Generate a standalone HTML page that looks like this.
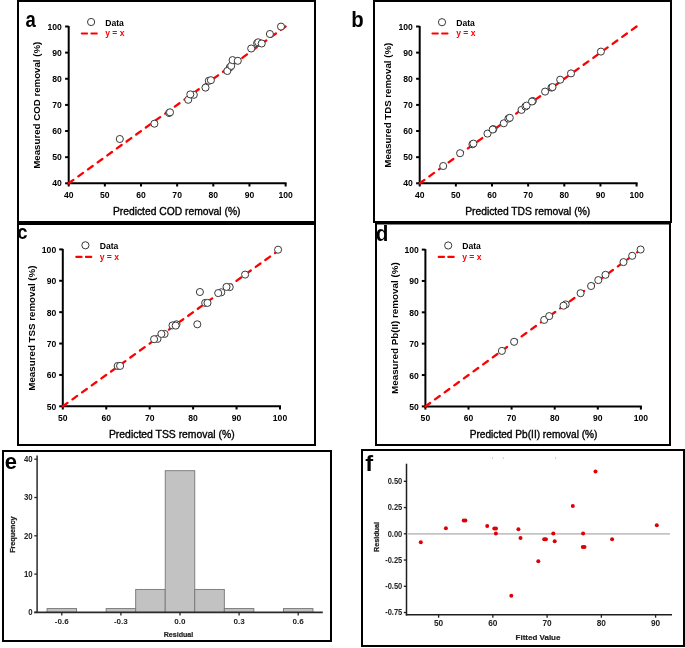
<!DOCTYPE html>
<html><head><meta charset="utf-8"><style>
html,body{margin:0;padding:0;background:#fff;width:685px;height:648px;overflow:hidden}
svg{position:absolute;left:0;top:0;font-family:"Liberation Sans", sans-serif;will-change:transform}
</style></head><body>
<svg width="685" height="648" viewBox="0 0 685 648">
<rect x="18" y="1" width="297" height="221" fill="none" stroke="#000" stroke-width="2"/>
<rect x="374" y="1" width="297" height="221" fill="none" stroke="#000" stroke-width="2"/>
<rect x="18" y="224" width="297" height="221" fill="none" stroke="#000" stroke-width="2"/>
<rect x="376" y="223.5" width="294" height="221.5" fill="none" stroke="#000" stroke-width="2"/>
<rect x="3" y="451" width="328" height="190" fill="none" stroke="#000" stroke-width="2"/>
<rect x="362" y="450" width="322" height="196" fill="none" stroke="#000" stroke-width="2"/>
<line x1="68.70" y1="26.00" x2="68.70" y2="184.30" stroke="#000" stroke-width="2" />
<line x1="67.70" y1="183.30" x2="286.60" y2="183.30" stroke="#000" stroke-width="2" />
<line x1="65.10" y1="183.30" x2="68.70" y2="183.30" stroke="#000" stroke-width="2" />
<line x1="68.70" y1="183.30" x2="68.70" y2="186.50" stroke="#000" stroke-width="2" />
<text x="61.90" y="186.40" font-size="8.6" font-weight="700" text-anchor="end" fill="#000" >40</text>
<text x="68.70" y="197.90" font-size="8.6" font-weight="700" text-anchor="middle" fill="#000" >40</text>
<line x1="65.10" y1="157.17" x2="68.70" y2="157.17" stroke="#000" stroke-width="2" />
<line x1="104.85" y1="183.30" x2="104.85" y2="186.50" stroke="#000" stroke-width="2" />
<text x="61.90" y="160.27" font-size="8.6" font-weight="700" text-anchor="end" fill="#000" >50</text>
<text x="104.85" y="197.90" font-size="8.6" font-weight="700" text-anchor="middle" fill="#000" >50</text>
<line x1="65.10" y1="131.03" x2="68.70" y2="131.03" stroke="#000" stroke-width="2" />
<line x1="141.00" y1="183.30" x2="141.00" y2="186.50" stroke="#000" stroke-width="2" />
<text x="61.90" y="134.13" font-size="8.6" font-weight="700" text-anchor="end" fill="#000" >60</text>
<text x="141.00" y="197.90" font-size="8.6" font-weight="700" text-anchor="middle" fill="#000" >60</text>
<line x1="65.10" y1="104.90" x2="68.70" y2="104.90" stroke="#000" stroke-width="2" />
<line x1="177.15" y1="183.30" x2="177.15" y2="186.50" stroke="#000" stroke-width="2" />
<text x="61.90" y="108.00" font-size="8.6" font-weight="700" text-anchor="end" fill="#000" >70</text>
<text x="177.15" y="197.90" font-size="8.6" font-weight="700" text-anchor="middle" fill="#000" >70</text>
<line x1="65.10" y1="78.77" x2="68.70" y2="78.77" stroke="#000" stroke-width="2" />
<line x1="213.30" y1="183.30" x2="213.30" y2="186.50" stroke="#000" stroke-width="2" />
<text x="61.90" y="81.87" font-size="8.6" font-weight="700" text-anchor="end" fill="#000" >80</text>
<text x="213.30" y="197.90" font-size="8.6" font-weight="700" text-anchor="middle" fill="#000" >80</text>
<line x1="65.10" y1="52.63" x2="68.70" y2="52.63" stroke="#000" stroke-width="2" />
<line x1="249.45" y1="183.30" x2="249.45" y2="186.50" stroke="#000" stroke-width="2" />
<text x="61.90" y="55.73" font-size="8.6" font-weight="700" text-anchor="end" fill="#000" >90</text>
<text x="249.45" y="197.90" font-size="8.6" font-weight="700" text-anchor="middle" fill="#000" >90</text>
<line x1="65.10" y1="26.50" x2="68.70" y2="26.50" stroke="#000" stroke-width="2" />
<line x1="285.60" y1="183.30" x2="285.60" y2="186.50" stroke="#000" stroke-width="2" />
<text x="61.90" y="29.60" font-size="8.6" font-weight="700" text-anchor="end" fill="#000" >100</text>
<text x="285.60" y="197.90" font-size="8.6" font-weight="700" text-anchor="middle" fill="#000" >100</text>
<line x1="68.70" y1="183.30" x2="285.60" y2="26.50" stroke="#f00" stroke-width="2.3" stroke-linecap="round" stroke-dasharray="5.8 6.1"/>
<circle cx="119.8" cy="139" r="3.55" fill="#fff" stroke="#383838" stroke-width="1"/>
<circle cx="154.39999999999998" cy="123.7" r="3.55" fill="#fff" stroke="#383838" stroke-width="1"/>
<circle cx="169.1" cy="113" r="3.55" fill="#fff" stroke="#383838" stroke-width="1"/>
<circle cx="170.0" cy="112.3" r="3.55" fill="#fff" stroke="#383838" stroke-width="1"/>
<circle cx="188.2" cy="99.8" r="3.55" fill="#fff" stroke="#383838" stroke-width="1"/>
<circle cx="193.79999999999998" cy="94.8" r="3.55" fill="#fff" stroke="#383838" stroke-width="1"/>
<circle cx="190.29999999999998" cy="94.4" r="3.55" fill="#fff" stroke="#383838" stroke-width="1"/>
<circle cx="208.79999999999998" cy="80.8" r="3.55" fill="#fff" stroke="#383838" stroke-width="1"/>
<circle cx="210.89999999999998" cy="80.2" r="3.55" fill="#fff" stroke="#383838" stroke-width="1"/>
<circle cx="205.5" cy="87.6" r="3.55" fill="#fff" stroke="#383838" stroke-width="1"/>
<circle cx="229.79999999999998" cy="67.4" r="3.55" fill="#fff" stroke="#383838" stroke-width="1"/>
<circle cx="227.29999999999998" cy="71" r="3.55" fill="#fff" stroke="#383838" stroke-width="1"/>
<circle cx="231.2" cy="65.9" r="3.55" fill="#fff" stroke="#383838" stroke-width="1"/>
<circle cx="232.6" cy="60.1" r="3.55" fill="#fff" stroke="#383838" stroke-width="1"/>
<circle cx="237.79999999999998" cy="60.8" r="3.55" fill="#fff" stroke="#383838" stroke-width="1"/>
<circle cx="251.2" cy="48.5" r="3.55" fill="#fff" stroke="#383838" stroke-width="1"/>
<circle cx="257.09999999999997" cy="43.2" r="3.55" fill="#fff" stroke="#383838" stroke-width="1"/>
<circle cx="258.2" cy="42.3" r="3.55" fill="#fff" stroke="#383838" stroke-width="1"/>
<circle cx="261.7" cy="43.5" r="3.55" fill="#fff" stroke="#383838" stroke-width="1"/>
<circle cx="269.9" cy="34" r="3.55" fill="#fff" stroke="#383838" stroke-width="1"/>
<circle cx="281.0" cy="26.6" r="3.55" fill="#fff" stroke="#383838" stroke-width="1"/>
<text x="176.70" y="214.60" font-size="10.3" font-weight="400" text-anchor="middle" fill="#000" stroke="#000" stroke-width="0.35">Predicted COD removal (%)</text>
<text x="0.00" y="0.00" font-size="9.7" font-weight="700" text-anchor="middle" fill="#000" transform="translate(40.3,105.2) rotate(-90)">Measured COD removal (%)</text>
<circle cx="91.1" cy="22.0" r="3.6" fill="#fff" stroke="#383838" stroke-width="1"/>
<line x1="81.80" y1="33.50" x2="87.10" y2="33.50" stroke="#f00" stroke-width="2.1" stroke-linecap="round"/>
<line x1="91.40" y1="33.50" x2="96.80" y2="33.50" stroke="#f00" stroke-width="2.1" stroke-linecap="round"/>
<text x="105.20" y="25.60" font-size="8.6" font-weight="700" text-anchor="start" fill="#000" >Data</text>
<text x="105.20" y="36.30" font-size="8.6" font-weight="700" text-anchor="start" fill="#f00" >y = x</text>
<line x1="419.70" y1="26.00" x2="419.70" y2="184.30" stroke="#000" stroke-width="2" />
<line x1="418.70" y1="183.30" x2="637.60" y2="183.30" stroke="#000" stroke-width="2" />
<line x1="416.10" y1="183.30" x2="419.70" y2="183.30" stroke="#000" stroke-width="2" />
<line x1="419.70" y1="183.30" x2="419.70" y2="186.50" stroke="#000" stroke-width="2" />
<text x="412.90" y="186.40" font-size="8.6" font-weight="700" text-anchor="end" fill="#000" >40</text>
<text x="419.70" y="197.90" font-size="8.6" font-weight="700" text-anchor="middle" fill="#000" >40</text>
<line x1="416.10" y1="157.17" x2="419.70" y2="157.17" stroke="#000" stroke-width="2" />
<line x1="455.85" y1="183.30" x2="455.85" y2="186.50" stroke="#000" stroke-width="2" />
<text x="412.90" y="160.27" font-size="8.6" font-weight="700" text-anchor="end" fill="#000" >50</text>
<text x="455.85" y="197.90" font-size="8.6" font-weight="700" text-anchor="middle" fill="#000" >50</text>
<line x1="416.10" y1="131.03" x2="419.70" y2="131.03" stroke="#000" stroke-width="2" />
<line x1="492.00" y1="183.30" x2="492.00" y2="186.50" stroke="#000" stroke-width="2" />
<text x="412.90" y="134.13" font-size="8.6" font-weight="700" text-anchor="end" fill="#000" >60</text>
<text x="492.00" y="197.90" font-size="8.6" font-weight="700" text-anchor="middle" fill="#000" >60</text>
<line x1="416.10" y1="104.90" x2="419.70" y2="104.90" stroke="#000" stroke-width="2" />
<line x1="528.15" y1="183.30" x2="528.15" y2="186.50" stroke="#000" stroke-width="2" />
<text x="412.90" y="108.00" font-size="8.6" font-weight="700" text-anchor="end" fill="#000" >70</text>
<text x="528.15" y="197.90" font-size="8.6" font-weight="700" text-anchor="middle" fill="#000" >70</text>
<line x1="416.10" y1="78.77" x2="419.70" y2="78.77" stroke="#000" stroke-width="2" />
<line x1="564.30" y1="183.30" x2="564.30" y2="186.50" stroke="#000" stroke-width="2" />
<text x="412.90" y="81.87" font-size="8.6" font-weight="700" text-anchor="end" fill="#000" >80</text>
<text x="564.30" y="197.90" font-size="8.6" font-weight="700" text-anchor="middle" fill="#000" >80</text>
<line x1="416.10" y1="52.63" x2="419.70" y2="52.63" stroke="#000" stroke-width="2" />
<line x1="600.45" y1="183.30" x2="600.45" y2="186.50" stroke="#000" stroke-width="2" />
<text x="412.90" y="55.73" font-size="8.6" font-weight="700" text-anchor="end" fill="#000" >90</text>
<text x="600.45" y="197.90" font-size="8.6" font-weight="700" text-anchor="middle" fill="#000" >90</text>
<line x1="416.10" y1="26.50" x2="419.70" y2="26.50" stroke="#000" stroke-width="2" />
<line x1="636.60" y1="183.30" x2="636.60" y2="186.50" stroke="#000" stroke-width="2" />
<text x="412.90" y="29.60" font-size="8.6" font-weight="700" text-anchor="end" fill="#000" >100</text>
<text x="636.60" y="197.90" font-size="8.6" font-weight="700" text-anchor="middle" fill="#000" >100</text>
<line x1="419.70" y1="183.30" x2="636.60" y2="26.50" stroke="#f00" stroke-width="2.3" stroke-linecap="round" stroke-dasharray="5.8 6.1"/>
<circle cx="443.2" cy="166" r="3.55" fill="#fff" stroke="#383838" stroke-width="1"/>
<circle cx="460.09999999999997" cy="153.2" r="3.55" fill="#fff" stroke="#383838" stroke-width="1"/>
<circle cx="472.4" cy="144.3" r="3.55" fill="#fff" stroke="#383838" stroke-width="1"/>
<circle cx="473.4" cy="143.6" r="3.55" fill="#fff" stroke="#383838" stroke-width="1"/>
<circle cx="487.5" cy="133.6" r="3.55" fill="#fff" stroke="#383838" stroke-width="1"/>
<circle cx="493.3" cy="129.1" r="3.55" fill="#fff" stroke="#383838" stroke-width="1"/>
<circle cx="492.7" cy="129.5" r="3.55" fill="#fff" stroke="#383838" stroke-width="1"/>
<circle cx="503.8" cy="123.3" r="3.55" fill="#fff" stroke="#383838" stroke-width="1"/>
<circle cx="508.4" cy="118.6" r="3.55" fill="#fff" stroke="#383838" stroke-width="1"/>
<circle cx="509.8" cy="117.8" r="3.55" fill="#fff" stroke="#383838" stroke-width="1"/>
<circle cx="521.5" cy="109.9" r="3.55" fill="#fff" stroke="#383838" stroke-width="1"/>
<circle cx="525.4000000000001" cy="106.5" r="3.55" fill="#fff" stroke="#383838" stroke-width="1"/>
<circle cx="526.6" cy="105.6" r="3.55" fill="#fff" stroke="#383838" stroke-width="1"/>
<circle cx="532.8000000000001" cy="101.0" r="3.55" fill="#fff" stroke="#383838" stroke-width="1"/>
<circle cx="532.0" cy="101.5" r="3.55" fill="#fff" stroke="#383838" stroke-width="1"/>
<circle cx="545.1" cy="91.6" r="3.55" fill="#fff" stroke="#383838" stroke-width="1"/>
<circle cx="551.5" cy="87.6" r="3.55" fill="#fff" stroke="#383838" stroke-width="1"/>
<circle cx="552.5" cy="87.1" r="3.55" fill="#fff" stroke="#383838" stroke-width="1"/>
<circle cx="560.2" cy="79.7" r="3.55" fill="#fff" stroke="#383838" stroke-width="1"/>
<circle cx="571.0" cy="73.4" r="3.55" fill="#fff" stroke="#383838" stroke-width="1"/>
<circle cx="600.9000000000001" cy="51.6" r="3.55" fill="#fff" stroke="#383838" stroke-width="1"/>
<text x="527.70" y="214.60" font-size="10.3" font-weight="400" text-anchor="middle" fill="#000" stroke="#000" stroke-width="0.35">Predicted TDS removal (%)</text>
<text x="0.00" y="0.00" font-size="9.7" font-weight="700" text-anchor="middle" fill="#000" transform="translate(391.3,105.2) rotate(-90)">Measured TDS removal (%)</text>
<circle cx="442.0" cy="22.2" r="3.6" fill="#fff" stroke="#383838" stroke-width="1"/>
<line x1="432.50" y1="33.50" x2="437.80" y2="33.50" stroke="#f00" stroke-width="2.1" stroke-linecap="round"/>
<line x1="442.10" y1="33.50" x2="447.50" y2="33.50" stroke="#f00" stroke-width="2.1" stroke-linecap="round"/>
<text x="456.20" y="25.80" font-size="8.6" font-weight="700" text-anchor="start" fill="#000" >Data</text>
<text x="456.20" y="36.30" font-size="8.6" font-weight="700" text-anchor="start" fill="#f00" >y = x</text>
<line x1="62.80" y1="248.90" x2="62.80" y2="407.30" stroke="#000" stroke-width="2" />
<line x1="61.80" y1="406.30" x2="281.00" y2="406.30" stroke="#000" stroke-width="2" />
<line x1="59.20" y1="406.30" x2="62.80" y2="406.30" stroke="#000" stroke-width="2" />
<line x1="62.80" y1="406.30" x2="62.80" y2="409.50" stroke="#000" stroke-width="2" />
<text x="56.20" y="409.80" font-size="8.6" font-weight="700" text-anchor="end" fill="#000" >50</text>
<text x="62.80" y="421.00" font-size="8.6" font-weight="700" text-anchor="middle" fill="#000" >50</text>
<line x1="59.20" y1="374.92" x2="62.80" y2="374.92" stroke="#000" stroke-width="2" />
<line x1="106.24" y1="406.30" x2="106.24" y2="409.50" stroke="#000" stroke-width="2" />
<text x="56.20" y="378.42" font-size="8.6" font-weight="700" text-anchor="end" fill="#000" >60</text>
<text x="106.24" y="421.00" font-size="8.6" font-weight="700" text-anchor="middle" fill="#000" >60</text>
<line x1="59.20" y1="343.54" x2="62.80" y2="343.54" stroke="#000" stroke-width="2" />
<line x1="149.68" y1="406.30" x2="149.68" y2="409.50" stroke="#000" stroke-width="2" />
<text x="56.20" y="347.04" font-size="8.6" font-weight="700" text-anchor="end" fill="#000" >70</text>
<text x="149.68" y="421.00" font-size="8.6" font-weight="700" text-anchor="middle" fill="#000" >70</text>
<line x1="59.20" y1="312.16" x2="62.80" y2="312.16" stroke="#000" stroke-width="2" />
<line x1="193.12" y1="406.30" x2="193.12" y2="409.50" stroke="#000" stroke-width="2" />
<text x="56.20" y="315.66" font-size="8.6" font-weight="700" text-anchor="end" fill="#000" >80</text>
<text x="193.12" y="421.00" font-size="8.6" font-weight="700" text-anchor="middle" fill="#000" >80</text>
<line x1="59.20" y1="280.78" x2="62.80" y2="280.78" stroke="#000" stroke-width="2" />
<line x1="236.56" y1="406.30" x2="236.56" y2="409.50" stroke="#000" stroke-width="2" />
<text x="56.20" y="284.28" font-size="8.6" font-weight="700" text-anchor="end" fill="#000" >90</text>
<text x="236.56" y="421.00" font-size="8.6" font-weight="700" text-anchor="middle" fill="#000" >90</text>
<line x1="59.20" y1="249.40" x2="62.80" y2="249.40" stroke="#000" stroke-width="2" />
<line x1="280.00" y1="406.30" x2="280.00" y2="409.50" stroke="#000" stroke-width="2" />
<text x="56.20" y="252.90" font-size="8.6" font-weight="700" text-anchor="end" fill="#000" >100</text>
<text x="280.00" y="421.00" font-size="8.6" font-weight="700" text-anchor="middle" fill="#000" >100</text>
<line x1="62.80" y1="406.30" x2="280.00" y2="249.40" stroke="#f00" stroke-width="2.3" stroke-linecap="round" stroke-dasharray="5.8 6.1"/>
<circle cx="117.7" cy="366" r="3.55" fill="#fff" stroke="#383838" stroke-width="1"/>
<circle cx="120.10000000000001" cy="365.9" r="3.55" fill="#fff" stroke="#383838" stroke-width="1"/>
<circle cx="157.5" cy="338.9" r="3.55" fill="#fff" stroke="#383838" stroke-width="1"/>
<circle cx="154.1" cy="339.2" r="3.55" fill="#fff" stroke="#383838" stroke-width="1"/>
<circle cx="164.6" cy="333.9" r="3.55" fill="#fff" stroke="#383838" stroke-width="1"/>
<circle cx="161.39999999999998" cy="333.9" r="3.55" fill="#fff" stroke="#383838" stroke-width="1"/>
<circle cx="172.5" cy="325.4" r="3.55" fill="#fff" stroke="#383838" stroke-width="1"/>
<circle cx="176.5" cy="324.3" r="3.55" fill="#fff" stroke="#383838" stroke-width="1"/>
<circle cx="175.7" cy="325.6" r="3.55" fill="#fff" stroke="#383838" stroke-width="1"/>
<circle cx="197.29999999999998" cy="324.3" r="3.55" fill="#fff" stroke="#383838" stroke-width="1"/>
<circle cx="199.89999999999998" cy="292" r="3.55" fill="#fff" stroke="#383838" stroke-width="1"/>
<circle cx="205.2" cy="302.9" r="3.55" fill="#fff" stroke="#383838" stroke-width="1"/>
<circle cx="207.5" cy="302.9" r="3.55" fill="#fff" stroke="#383838" stroke-width="1"/>
<circle cx="221.29999999999998" cy="292.3" r="3.55" fill="#fff" stroke="#383838" stroke-width="1"/>
<circle cx="218.2" cy="293.1" r="3.55" fill="#fff" stroke="#383838" stroke-width="1"/>
<circle cx="229.7" cy="287.1" r="3.55" fill="#fff" stroke="#383838" stroke-width="1"/>
<circle cx="226.5" cy="286.9" r="3.55" fill="#fff" stroke="#383838" stroke-width="1"/>
<circle cx="245.1" cy="274.6" r="3.55" fill="#fff" stroke="#383838" stroke-width="1"/>
<circle cx="278.09999999999997" cy="249.7" r="3.55" fill="#fff" stroke="#383838" stroke-width="1"/>
<text x="171.80" y="437.50" font-size="10.4" font-weight="400" text-anchor="middle" fill="#000" stroke="#000" stroke-width="0.35">Predicted TSS removal (%)</text>
<text x="0.00" y="0.00" font-size="9.75" font-weight="700" text-anchor="middle" fill="#000" transform="translate(34.7,328.1) rotate(-90)">Measured TSS removal (%)</text>
<circle cx="85.39999999999999" cy="245.29999999999998" r="3.6" fill="#fff" stroke="#383838" stroke-width="1"/>
<line x1="76.30" y1="256.90" x2="81.60" y2="256.90" stroke="#f00" stroke-width="2.1" stroke-linecap="round"/>
<line x1="85.90" y1="256.90" x2="91.30" y2="256.90" stroke="#f00" stroke-width="2.1" stroke-linecap="round"/>
<text x="99.70" y="248.90" font-size="8.6" font-weight="700" text-anchor="start" fill="#000" >Data</text>
<text x="99.70" y="259.70" font-size="8.6" font-weight="700" text-anchor="start" fill="#f00" >y = x</text>
<line x1="425.40" y1="249.10" x2="425.40" y2="407.40" stroke="#000" stroke-width="2" />
<line x1="424.40" y1="406.40" x2="641.90" y2="406.40" stroke="#000" stroke-width="2" />
<line x1="421.80" y1="406.40" x2="425.40" y2="406.40" stroke="#000" stroke-width="2" />
<line x1="425.40" y1="406.40" x2="425.40" y2="409.60" stroke="#000" stroke-width="2" />
<text x="418.90" y="409.90" font-size="8.6" font-weight="700" text-anchor="end" fill="#000" >50</text>
<text x="425.40" y="421.00" font-size="8.6" font-weight="700" text-anchor="middle" fill="#000" >50</text>
<line x1="421.80" y1="375.04" x2="425.40" y2="375.04" stroke="#000" stroke-width="2" />
<line x1="468.50" y1="406.40" x2="468.50" y2="409.60" stroke="#000" stroke-width="2" />
<text x="418.90" y="378.54" font-size="8.6" font-weight="700" text-anchor="end" fill="#000" >60</text>
<text x="468.50" y="421.00" font-size="8.6" font-weight="700" text-anchor="middle" fill="#000" >60</text>
<line x1="421.80" y1="343.68" x2="425.40" y2="343.68" stroke="#000" stroke-width="2" />
<line x1="511.60" y1="406.40" x2="511.60" y2="409.60" stroke="#000" stroke-width="2" />
<text x="418.90" y="347.18" font-size="8.6" font-weight="700" text-anchor="end" fill="#000" >70</text>
<text x="511.60" y="421.00" font-size="8.6" font-weight="700" text-anchor="middle" fill="#000" >70</text>
<line x1="421.80" y1="312.32" x2="425.40" y2="312.32" stroke="#000" stroke-width="2" />
<line x1="554.70" y1="406.40" x2="554.70" y2="409.60" stroke="#000" stroke-width="2" />
<text x="418.90" y="315.82" font-size="8.6" font-weight="700" text-anchor="end" fill="#000" >80</text>
<text x="554.70" y="421.00" font-size="8.6" font-weight="700" text-anchor="middle" fill="#000" >80</text>
<line x1="421.80" y1="280.96" x2="425.40" y2="280.96" stroke="#000" stroke-width="2" />
<line x1="597.80" y1="406.40" x2="597.80" y2="409.60" stroke="#000" stroke-width="2" />
<text x="418.90" y="284.46" font-size="8.6" font-weight="700" text-anchor="end" fill="#000" >90</text>
<text x="597.80" y="421.00" font-size="8.6" font-weight="700" text-anchor="middle" fill="#000" >90</text>
<line x1="421.80" y1="249.60" x2="425.40" y2="249.60" stroke="#000" stroke-width="2" />
<line x1="640.90" y1="406.40" x2="640.90" y2="409.60" stroke="#000" stroke-width="2" />
<text x="418.90" y="253.10" font-size="8.6" font-weight="700" text-anchor="end" fill="#000" >100</text>
<text x="640.90" y="421.00" font-size="8.6" font-weight="700" text-anchor="middle" fill="#000" >100</text>
<line x1="425.40" y1="406.40" x2="640.90" y2="249.60" stroke="#f00" stroke-width="2.3" stroke-linecap="round" stroke-dasharray="5.8 6.1"/>
<circle cx="501.9" cy="350.9" r="3.55" fill="#fff" stroke="#383838" stroke-width="1"/>
<circle cx="514.1" cy="341.8" r="3.55" fill="#fff" stroke="#383838" stroke-width="1"/>
<circle cx="544.2" cy="319.9" r="3.55" fill="#fff" stroke="#383838" stroke-width="1"/>
<circle cx="549.2" cy="316.1" r="3.55" fill="#fff" stroke="#383838" stroke-width="1"/>
<circle cx="565.7" cy="304.4" r="3.55" fill="#fff" stroke="#383838" stroke-width="1"/>
<circle cx="563.5" cy="305.7" r="3.55" fill="#fff" stroke="#383838" stroke-width="1"/>
<circle cx="580.6" cy="293.2" r="3.55" fill="#fff" stroke="#383838" stroke-width="1"/>
<circle cx="591.1" cy="286" r="3.55" fill="#fff" stroke="#383838" stroke-width="1"/>
<circle cx="598.3000000000001" cy="280.1" r="3.55" fill="#fff" stroke="#383838" stroke-width="1"/>
<circle cx="605.5" cy="274.8" r="3.55" fill="#fff" stroke="#383838" stroke-width="1"/>
<circle cx="623.5" cy="262.1" r="3.55" fill="#fff" stroke="#383838" stroke-width="1"/>
<circle cx="632.2" cy="255.8" r="3.55" fill="#fff" stroke="#383838" stroke-width="1"/>
<circle cx="640.6" cy="249.5" r="3.55" fill="#fff" stroke="#383838" stroke-width="1"/>
<text x="533.60" y="437.50" font-size="10.15" font-weight="400" text-anchor="middle" fill="#000" stroke="#000" stroke-width="0.35">Predicted Pb(II) removal (%)</text>
<text x="0.00" y="0.00" font-size="9.85" font-weight="700" text-anchor="middle" fill="#000" transform="translate(397.5,328.1) rotate(-90)">Measured Pb(II) removal (%)</text>
<circle cx="448.2" cy="245.5" r="3.6" fill="#fff" stroke="#383838" stroke-width="1"/>
<line x1="438.70" y1="256.90" x2="444.00" y2="256.90" stroke="#f00" stroke-width="2.1" stroke-linecap="round"/>
<line x1="448.30" y1="256.90" x2="453.70" y2="256.90" stroke="#f00" stroke-width="2.1" stroke-linecap="round"/>
<text x="462.20" y="249.10" font-size="8.6" font-weight="700" text-anchor="start" fill="#000" >Data</text>
<text x="462.20" y="259.70" font-size="8.6" font-weight="700" text-anchor="start" fill="#f00" >y = x</text>
<rect x="47.03" y="608.57" width="29.55" height="3.83" fill="#c2c2c2" stroke="#777" stroke-width="0.9"/>
<rect x="106.12" y="608.57" width="29.55" height="3.83" fill="#c2c2c2" stroke="#777" stroke-width="0.9"/>
<rect x="135.68" y="589.42" width="29.55" height="22.98" fill="#c2c2c2" stroke="#777" stroke-width="0.9"/>
<rect x="165.22" y="470.69" width="29.55" height="141.71" fill="#c2c2c2" stroke="#777" stroke-width="0.9"/>
<rect x="194.78" y="589.42" width="29.55" height="22.98" fill="#c2c2c2" stroke="#777" stroke-width="0.9"/>
<rect x="224.32" y="608.57" width="29.55" height="3.83" fill="#c2c2c2" stroke="#777" stroke-width="0.9"/>
<rect x="283.43" y="608.57" width="29.55" height="3.83" fill="#c2c2c2" stroke="#777" stroke-width="0.9"/>
<line x1="37.10" y1="455.50" x2="37.10" y2="613.10" stroke="#2a2a2a" stroke-width="1.5" />
<line x1="34.30" y1="612.40" x2="322.80" y2="612.40" stroke="#2a2a2a" stroke-width="1.6" />
<line x1="34.30" y1="612.40" x2="37.10" y2="612.40" stroke="#2a2a2a" stroke-width="1.3" />
<text x="0.00" y="0.00" font-size="8.4" font-weight="700" text-anchor="end" fill="#222" transform="translate(32.6,615.20) scale(0.93,1)">0</text>
<line x1="34.30" y1="574.10" x2="37.10" y2="574.10" stroke="#2a2a2a" stroke-width="1.3" />
<text x="0.00" y="0.00" font-size="8.4" font-weight="700" text-anchor="end" fill="#222" transform="translate(32.6,576.90) scale(0.93,1)">10</text>
<line x1="34.30" y1="535.80" x2="37.10" y2="535.80" stroke="#2a2a2a" stroke-width="1.3" />
<text x="0.00" y="0.00" font-size="8.4" font-weight="700" text-anchor="end" fill="#222" transform="translate(32.6,538.60) scale(0.93,1)">20</text>
<line x1="34.30" y1="497.50" x2="37.10" y2="497.50" stroke="#2a2a2a" stroke-width="1.3" />
<text x="0.00" y="0.00" font-size="8.4" font-weight="700" text-anchor="end" fill="#222" transform="translate(32.6,500.30) scale(0.93,1)">30</text>
<line x1="34.30" y1="459.20" x2="37.10" y2="459.20" stroke="#2a2a2a" stroke-width="1.3" />
<text x="0.00" y="0.00" font-size="8.4" font-weight="700" text-anchor="end" fill="#222" transform="translate(32.6,462.00) scale(0.93,1)">40</text>
<line x1="61.80" y1="612.40" x2="61.80" y2="615.60" stroke="#2a2a2a" stroke-width="1.3" />
<text x="61.80" y="624.00" font-size="8.1" font-weight="700" text-anchor="middle" fill="#222" >-0.6</text>
<line x1="120.90" y1="612.40" x2="120.90" y2="615.60" stroke="#2a2a2a" stroke-width="1.3" />
<text x="120.90" y="624.00" font-size="8.1" font-weight="700" text-anchor="middle" fill="#222" >-0.3</text>
<line x1="180.00" y1="612.40" x2="180.00" y2="615.60" stroke="#2a2a2a" stroke-width="1.3" />
<text x="180.00" y="624.00" font-size="8.1" font-weight="700" text-anchor="middle" fill="#222" >0.0</text>
<line x1="239.10" y1="612.40" x2="239.10" y2="615.60" stroke="#2a2a2a" stroke-width="1.3" />
<text x="239.10" y="624.00" font-size="8.1" font-weight="700" text-anchor="middle" fill="#222" >0.3</text>
<line x1="298.20" y1="612.40" x2="298.20" y2="615.60" stroke="#2a2a2a" stroke-width="1.3" />
<text x="298.20" y="624.00" font-size="8.1" font-weight="700" text-anchor="middle" fill="#222" >0.6</text>
<text x="178.50" y="637.30" font-size="7.1" font-weight="700" text-anchor="middle" fill="#222" stroke="#222" stroke-width="0.2">Residual</text>
<text x="0.00" y="0.00" font-size="7.2" font-weight="700" text-anchor="middle" fill="#222" stroke="#222" stroke-width="0.25" transform="translate(15.4,534.7) rotate(-90)">Frequency</text>
<line x1="406.50" y1="463.70" x2="406.50" y2="615.50" stroke="#1e1e1e" stroke-width="1.5" />
<line x1="405.80" y1="614.80" x2="672.00" y2="614.80" stroke="#1e1e1e" stroke-width="1.6" />
<line x1="407.30" y1="533.80" x2="670.00" y2="533.80" stroke="#c4c4c4" stroke-width="1.8" />
<line x1="403.80" y1="481.32" x2="406.50" y2="481.32" stroke="#1e1e1e" stroke-width="1.3" />
<text x="0.00" y="0.00" font-size="8.2" font-weight="700" text-anchor="end" fill="#222" transform="translate(402.3,484.12) scale(0.92,1)">0.50</text>
<line x1="403.80" y1="507.56" x2="406.50" y2="507.56" stroke="#1e1e1e" stroke-width="1.3" />
<text x="0.00" y="0.00" font-size="8.2" font-weight="700" text-anchor="end" fill="#222" transform="translate(402.3,510.36) scale(0.92,1)">0.25</text>
<line x1="403.80" y1="533.80" x2="406.50" y2="533.80" stroke="#1e1e1e" stroke-width="1.3" />
<text x="0.00" y="0.00" font-size="8.2" font-weight="700" text-anchor="end" fill="#222" transform="translate(402.3,536.60) scale(0.92,1)">0.00</text>
<line x1="403.80" y1="560.04" x2="406.50" y2="560.04" stroke="#1e1e1e" stroke-width="1.3" />
<text x="0.00" y="0.00" font-size="8.2" font-weight="700" text-anchor="end" fill="#222" transform="translate(402.3,562.84) scale(0.92,1)">-0.25</text>
<line x1="403.80" y1="586.28" x2="406.50" y2="586.28" stroke="#1e1e1e" stroke-width="1.3" />
<text x="0.00" y="0.00" font-size="8.2" font-weight="700" text-anchor="end" fill="#222" transform="translate(402.3,589.08) scale(0.92,1)">-0.50</text>
<line x1="403.80" y1="612.52" x2="406.50" y2="612.52" stroke="#1e1e1e" stroke-width="1.3" />
<text x="0.00" y="0.00" font-size="8.2" font-weight="700" text-anchor="end" fill="#222" transform="translate(402.3,615.32) scale(0.92,1)">-0.75</text>
<line x1="438.60" y1="614.80" x2="438.60" y2="617.70" stroke="#1e1e1e" stroke-width="1.3" />
<text x="438.60" y="626.10" font-size="8.3" font-weight="700" text-anchor="middle" fill="#222" >50</text>
<line x1="492.85" y1="614.80" x2="492.85" y2="617.70" stroke="#1e1e1e" stroke-width="1.3" />
<text x="492.85" y="626.10" font-size="8.3" font-weight="700" text-anchor="middle" fill="#222" >60</text>
<line x1="547.10" y1="614.80" x2="547.10" y2="617.70" stroke="#1e1e1e" stroke-width="1.3" />
<text x="547.10" y="626.10" font-size="8.3" font-weight="700" text-anchor="middle" fill="#222" >70</text>
<line x1="601.35" y1="614.80" x2="601.35" y2="617.70" stroke="#1e1e1e" stroke-width="1.3" />
<text x="601.35" y="626.10" font-size="8.3" font-weight="700" text-anchor="middle" fill="#222" >80</text>
<line x1="655.60" y1="614.80" x2="655.60" y2="617.70" stroke="#1e1e1e" stroke-width="1.3" />
<text x="655.60" y="626.10" font-size="8.3" font-weight="700" text-anchor="middle" fill="#222" >90</text>
<text x="538.00" y="640.40" font-size="8.0" font-weight="700" text-anchor="middle" fill="#222" stroke="#222" stroke-width="0.2">Fitted Value</text>
<text x="0.00" y="0.00" font-size="7.2" font-weight="700" text-anchor="middle" fill="#222" stroke="#222" stroke-width="0.25" transform="translate(379.3,537) rotate(-90)">Residual</text>
<circle cx="420.8" cy="542.2" r="2.0" fill="#dc0008"/>
<circle cx="445.9" cy="528.2" r="2.0" fill="#dc0008"/>
<circle cx="463.7" cy="520.5" r="2.0" fill="#dc0008"/>
<circle cx="465.4" cy="520.5" r="2.0" fill="#dc0008"/>
<circle cx="487.2" cy="526" r="2.0" fill="#dc0008"/>
<circle cx="494.3" cy="528.5" r="2.0" fill="#dc0008"/>
<circle cx="496" cy="528.5" r="2.0" fill="#dc0008"/>
<circle cx="495.9" cy="533.6" r="2.0" fill="#dc0008"/>
<circle cx="511.3" cy="595.8" r="2.0" fill="#dc0008"/>
<circle cx="518.4" cy="529.2" r="2.0" fill="#dc0008"/>
<circle cx="520.5" cy="538.1" r="2.0" fill="#dc0008"/>
<circle cx="544.2" cy="539.3" r="2.0" fill="#dc0008"/>
<circle cx="545.9" cy="539.3" r="2.0" fill="#dc0008"/>
<circle cx="553.3" cy="533.4" r="2.0" fill="#dc0008"/>
<circle cx="554.7" cy="541.2" r="2.0" fill="#dc0008"/>
<circle cx="538.3" cy="561.3" r="2.0" fill="#dc0008"/>
<circle cx="572.8" cy="506" r="2.0" fill="#dc0008"/>
<circle cx="583.1" cy="533.5" r="2.0" fill="#dc0008"/>
<circle cx="582.8" cy="547.1" r="2.0" fill="#dc0008"/>
<circle cx="584.5" cy="547.1" r="2.0" fill="#dc0008"/>
<circle cx="595.5" cy="471.4" r="2.0" fill="#dc0008"/>
<circle cx="612.1" cy="539.3" r="2.0" fill="#dc0008"/>
<circle cx="656.8" cy="525.2" r="2.0" fill="#dc0008"/>
<circle cx="492.5" cy="458.1" r="0.7" fill="#aaa"/>
<circle cx="503.4" cy="458.1" r="0.7" fill="#aaa"/>
<circle cx="555.6" cy="458.1" r="0.7" fill="#aaa"/>
<text x="0.00" y="0.00" font-size="21.5" font-weight="700" text-anchor="start" fill="#000" transform="translate(25.45,27.3) scale(0.86,1)">a</text>
<text x="0.00" y="0.00" font-size="21.2" font-weight="700" text-anchor="start" fill="#000" transform="translate(351.35,27.4) scale(0.96,1)">b</text>
<text x="0.00" y="0.00" font-size="20.5" font-weight="700" text-anchor="start" fill="#000" transform="translate(17.2,238.6) scale(0.9,1)">c</text>
<text x="0.00" y="0.00" font-size="22.2" font-weight="700" text-anchor="start" fill="#000" transform="translate(375.8,240.8) scale(0.93,1)">d</text>
<text x="0.00" y="0.00" font-size="22" font-weight="700" text-anchor="start" fill="#000" transform="translate(4.8,469.1) scale(1.0,1)">e</text>
<text x="0.00" y="0.00" font-size="21.5" font-weight="700" text-anchor="start" fill="#000" transform="translate(365.3,471.4) scale(1.1,1)">f</text>
</svg>
</body></html>
